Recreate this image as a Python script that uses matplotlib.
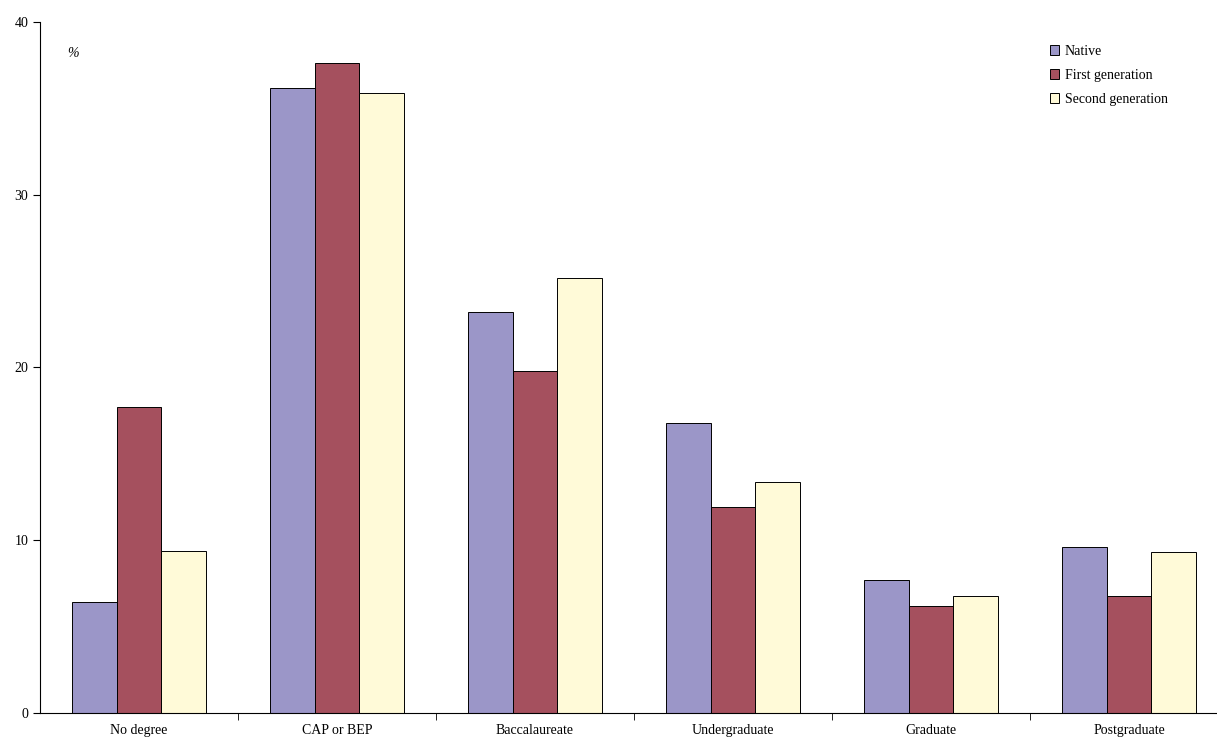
import matplotlib
matplotlib.use("Agg")
import matplotlib.pyplot as plt
import numpy as np

categories = ["No degree", "CAP or BEP", "Baccalaureate", "Undergraduate", "Graduate", "Postgraduate"]
series_names = ["Native", "First generation", "Second generation"]
native = [6.4, 36.2, 23.2, 16.8, 7.7, 9.6]
first_gen = [17.7, 37.6, 19.8, 11.9, 6.2, 6.8]
second_gen = [9.4, 35.9, 25.2, 13.4, 6.8, 9.3]
colors = ["#9b96c8", "#a5505e", "#fffad8"]

plt.rcParams['font.family'] = ['Liberation Serif', 'DejaVu Serif']
fig = plt.figure(figsize=(12.17, 7.47), dpi=100)
ax = fig.add_axes([40/1217, 1-713/747, 1188/1217, 691/747])
x = np.arange(len(categories))
w = 0.225
for i, (vals, name) in enumerate(zip([native, first_gen, second_gen], series_names)):
    ax.bar(x + (i-1)*w, vals, w, color=colors[i], edgecolor="black", linewidth=0.7, label=name)
ax.set_xlim(-0.5, len(categories)-0.5)
ax.set_ylim(0, 40)
ax.set_yticks([0, 10, 20, 30, 40])
ax.set_xticks(x)
ax.set_xticklabels(categories, fontsize=10)
ax.set_xticks(np.arange(0.5, len(categories)-1, 1), minor=True)
ax.tick_params(axis='x', which='major', length=0, pad=8)
ax.tick_params(axis='x', which='minor', length=5, direction='out')
ax.tick_params(axis='y', length=5, direction='out', labelsize=10)
for s in ["top", "right"]:
    ax.spines[s].set_visible(False)
ax.text(0.023, 0.95, "%", transform=ax.transAxes, fontsize=10, style='italic')
ax.legend(loc="upper right", bbox_to_anchor=(0.96, 0.985), frameon=False, fontsize=10,
          handlelength=0.7, handleheight=0.7, handletextpad=0.4, labelspacing=0.8)
fig.savefig("out.png", dpi=100)
